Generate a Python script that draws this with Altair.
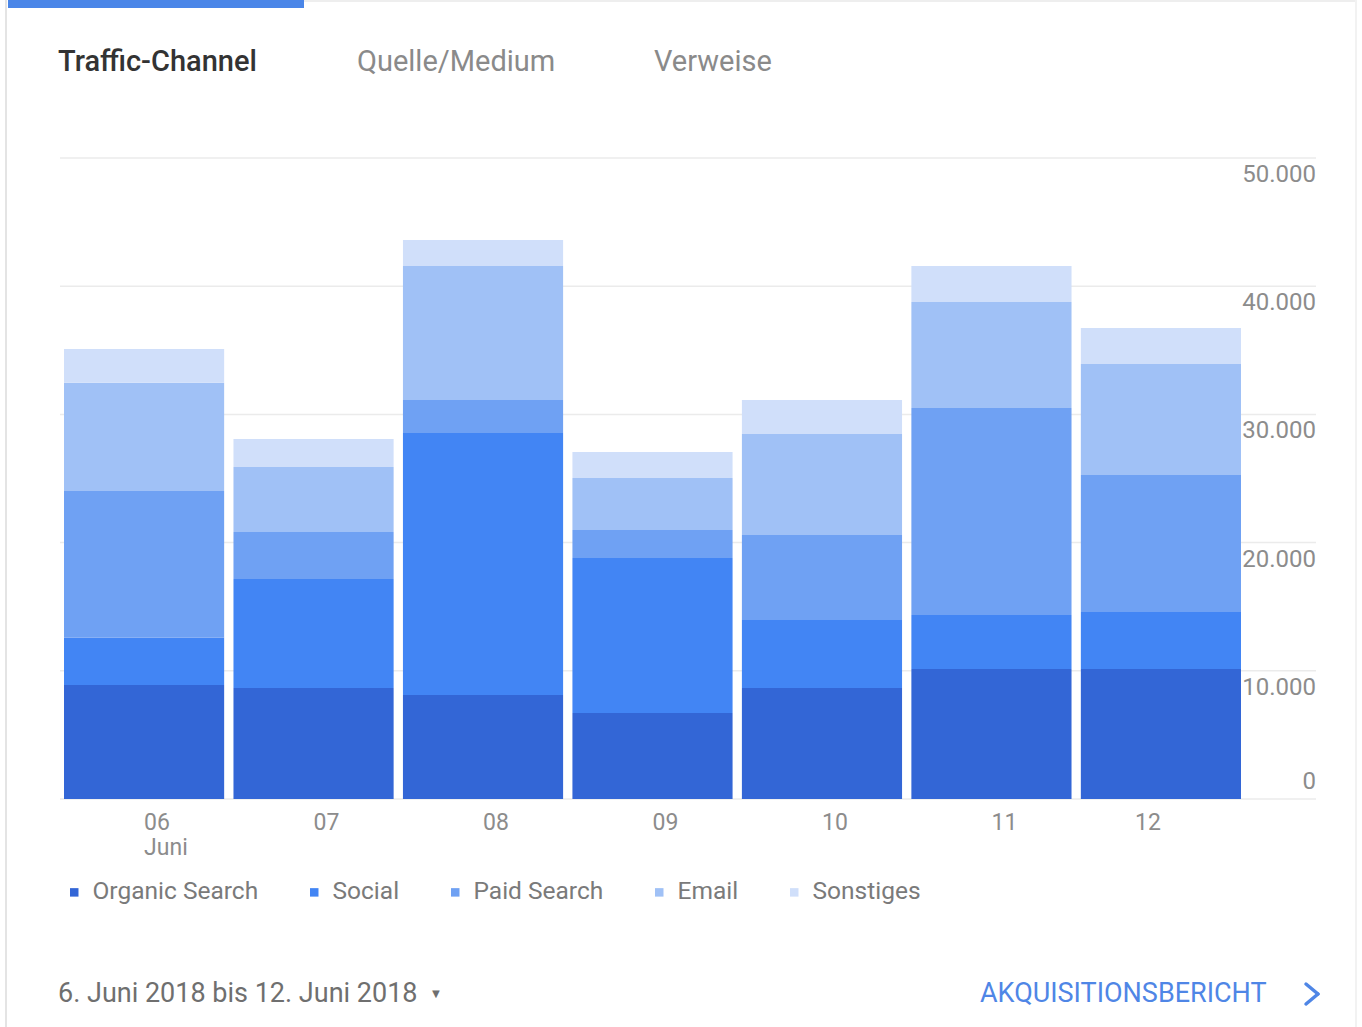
import altair as alt
import pandas as pd

days = ["06", "07", "08", "09", "10", "11", "12"]
series = ["Organic Search", "Social", "Paid Search", "Email", "Sonstiges"]
colors = ["#3366d6", "#4285f4", "#6fa1f3", "#a0c1f6", "#d0dffa"]
organic = [8900, 8660, 8110, 6710, 8660, 10140, 10140]
social = [3670, 8500, 20440, 12090, 5300, 4210, 4450]
paid = [11460, 3670, 2570, 2180, 6630, 16150, 10680]
email = [8430, 5070, 10460, 4060, 7880, 8270, 8660]
sonstiges = [2650, 2180, 2020, 2030, 2650, 2810, 2810]
tick_values = [0, 10000, 20000, 30000, 40000, 50000]
tick_labels = ["0", "10.000", "20.000", "30.000", "40.000", "50.000"]

rows = []
for si, (name, vals) in enumerate(zip(series, [organic, social, paid, email, sonstiges])):
    for d, v in zip(days, vals):
        rows.append({"Tag": d, "Channel": name, "Sitzungen": v, "rank": si})
df = pd.DataFrame(rows)
ticks = pd.DataFrame({"v": tick_values, "label": tick_labels})
one = pd.DataFrame({"a": [0]})

W, H = 1256, 641
FONT = "Roboto"

xscale = alt.Scale(domain=days, range=[4, 1181], paddingInner=0.055, paddingOuter=0)
yscale = alt.Scale(domain=[0, 50000], nice=False)

grid = alt.Chart(ticks).mark_rule(color="#ebebeb", strokeWidth=1.5).encode(
    y=alt.Y("v:Q", scale=yscale, axis=None),
    x=alt.value(0), x2=alt.value(W),
)

bars = alt.Chart(df).mark_bar().encode(
    x=alt.X("Tag:N", scale=xscale, sort=days, title=None,
            axis=alt.Axis(domain=False, ticks=False, labelColor="#8c8c8c",
                          labelFontSize=23, labelFont=FONT, labelPadding=12,
                          labelAngle=0, labelLineHeight=25,
                          labelExpr="datum.value == '06' ? ['06', 'Juni'] : datum.value",
                          labelAlign={"condition": {"test": "datum.value == '12'", "value": "right"}, "value": "left"})),
    y=alt.Y("Sitzungen:Q", stack="zero", scale=yscale, axis=None),
    color=alt.Color("Channel:N", sort=series,
                    scale=alt.Scale(domain=series, range=colors),
                    legend=alt.Legend(title=None, orient="none", legendX=2, legendY=722,
                                      direction="horizontal", symbolType="square",
                                      symbolSize=72, labelFontSize=24.5, labelFont=FONT,
                                      labelColor="#7a7a7a", columnPadding=43,
                                      labelOffset=6, labelLimit=400,
                                      symbolStrokeWidth=0)),
    order=alt.Order("rank:Q", sort="ascending"),
)

ylab_top = alt.Chart(ticks).transform_filter("datum.v > 0").mark_text(
    align="right", baseline="middle", dy=17, fontSize=24, font=FONT, color="#8c8c8c"
).encode(y=alt.Y("v:Q", scale=yscale), x=alt.value(W), text="label:N")

ylab_zero = alt.Chart(ticks).transform_filter("datum.v == 0").mark_text(
    align="right", baseline="middle", dy=-17, fontSize=24, font=FONT, color="#8c8c8c"
).encode(y=alt.Y("v:Q", scale=yscale), x=alt.value(W), text="label:N")

def txt(s, x, y, size=22, color="#777777", weight="normal", align="left"):
    return alt.Chart(one).mark_text(
        text=s, align=align, baseline="middle", fontSize=size, font=FONT,
        color=color, fontWeight=weight
    ).encode(x=alt.value(x), y=alt.value(y))

top_bar = alt.Chart(one).mark_rect(color="#4a86e8").encode(
    x=alt.value(-52), x2=alt.value(244), y=alt.value(-158), y2=alt.value(-150))
top_line = alt.Chart(one).mark_rule(color="#eeeeee", strokeWidth=2).encode(
    x=alt.value(244), x2=alt.value(1296), y=alt.value(-157))
left_line = alt.Chart(one).mark_rule(color="#e4e4e4", strokeWidth=2).encode(
    x=alt.value(-54), y=alt.value(-158), y2=alt.value(869))
right_line = alt.Chart(one).mark_rule(color="#f2f2f2", strokeWidth=2).encode(
    x=alt.value(1296), y=alt.value(-158), y2=alt.value(869))

chev1 = alt.Chart(one).mark_rule(color="#4f86e6", strokeWidth=3.5, strokeCap="round").encode(
    x=alt.value(1246), x2=alt.value(1258), y=alt.value(826), y2=alt.value(836))
chev2 = alt.Chart(one).mark_rule(color="#4f86e6", strokeWidth=3.5, strokeCap="round").encode(
    x=alt.value(1258), x2=alt.value(1246), y=alt.value(836), y2=alt.value(846))

tabs = (txt("Traffic-Channel", -2, -96, 29, "#333333", 500)
        + txt("Quelle/Medium", 297, -96, 29, "#8a8a8a")
        + txt("Verweise", 594, -96, 29, "#8a8a8a"))
bottom = (txt("6. Juni 2018 bis 12. Juni 2018", -2, 836, 27, "#6f6f6f")
          + txt("▼", 376, 836, 13, "#6f6f6f", align="center")
          + txt("AKQUISITIONSBERICHT", 920, 836, 27, "#4f86e6"))

chart = alt.layer(
    grid, bars, ylab_top, ylab_zero, top_bar, top_line, left_line, right_line,
    chev1, chev2, tabs, bottom
).properties(
    width=W, height=H,
    autosize=alt.AutoSizeParams(type="none"),
    padding={"left": 60, "top": 158, "right": 46, "bottom": 228},
    background="white",
).configure_view(stroke=None)

chart.save("out.html", embed_options={"renderer": "svg", "actions": False})
